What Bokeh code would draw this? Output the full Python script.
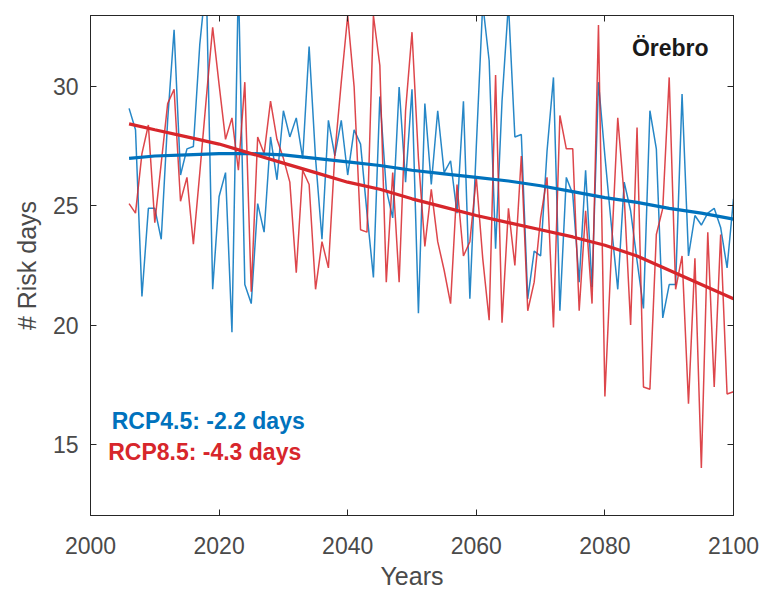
from bokeh.plotting import figure
from bokeh.models import LinearAxis, Range1d, FixedTicker, Label
from bokeh.embed import file_html
from bokeh.resources import INLINE

# ---- data ----
years = list(range(2006, 2101))

rcp45 = [29.1, 28.2, 21.2, 24.9, 24.9, 23.6, 28.6, 32.4, 26.3, 27.4,
         27.5, 31.8, 34.5, 21.5, 25.4, 26.4, 19.7, 34.5, 21.7, 20.9,
         25.1, 23.9, 27.9, 26.1, 29.0, 27.9, 28.7, 27.0, 31.7, 27.0,
         23.6, 28.6, 27.1, 28.6, 26.3, 28.2, 27.6, 24.7, 22.0, 29.6,
         25.7, 24.5, 30.0, 26.0, 29.9, 20.5, 29.3, 25.9, 29.0, 26.4,
         26.9, 24.7, 29.4, 21.1, 27.5, 33.5, 31.1, 23.2, 29.4, 33.5,
         27.9, 28.0, 21.1, 23.1, 22.9, 27.3, 30.4, 20.6, 26.2, 25.5,
         21.8, 26.5, 21.6, 30.2, 27.1, 24.2, 21.5, 26.0, 24.8, 22.7,
         20.7, 29.0, 27.4, 20.3, 21.7, 21.7, 29.7, 22.9, 24.6, 24.2,
         24.7, 24.9, 24.1, 22.4, 25.3]

rcp85 = [25.1, 24.7, 27.2, 28.4, 24.3, 26.8, 29.3, 29.9, 25.2, 26.2,
         23.4, 26.4, 29.5, 32.5, 30.1, 27.8, 28.7, 26.5, 30.2, 21.4,
         27.9, 27.2, 29.4, 27.8, 27.0, 26.0, 22.2, 26.5, 25.9, 21.5,
         23.5, 22.4, 27.2, 30.2, 33.0, 30.0, 24.0, 23.9, 33.0, 30.9,
         21.8, 26.4, 21.8, 29.0, 32.3, 27.0, 23.3, 25.7, 23.5, 22.3,
         20.9, 25.9, 22.9, 23.5, 26.2, 22.8, 20.2, 30.5, 20.1, 24.9,
         22.5, 27.1, 20.6, 21.8, 24.5, 26.2, 19.9, 28.8, 27.4, 27.4,
         20.6, 24.8, 20.9, 32.6, 17.0, 23.0, 28.7, 25.4, 20.0, 28.3,
         17.4, 17.3, 23.8, 24.9, 30.4, 21.5, 22.9, 16.7, 22.8, 14.0,
         23.9, 17.4, 23.8, 17.1, 17.2]

trend_years = [2006, 2010, 2015, 2020, 2025, 2030, 2035, 2040, 2045, 2050,
               2055, 2060, 2065, 2070, 2075, 2080, 2085, 2090, 2095, 2100]
trend45 = [27.0, 27.1, 27.15, 27.2, 27.2, 27.15, 27.0, 26.85, 26.7, 26.5,
           26.35, 26.2, 26.05, 25.85, 25.6, 25.35, 25.15, 24.9, 24.7, 24.45]
trend85 = [28.45, 28.2, 27.9, 27.6, 27.2, 26.8, 26.4, 26.0, 25.7, 25.3,
           24.95, 24.6, 24.3, 24.0, 23.7, 23.35, 22.9, 22.3, 21.7, 21.1]

x_ticks = [2000, 2020, 2040, 2060, 2080, 2100]
y_ticks = [15, 20, 25, 30]

station = "Örebro"
label45 = "RCP4.5: -2.2 days"
label85 = "RCP8.5: -4.3 days"

assert len(rcp45) == len(years) and len(rcp85) == len(years)

BLUE = "#0072BD"
RED = "#D7262B"
TXT = "#4a4a4a"
FONT = "Liberation Sans"

p = figure(width=768, height=592, output_backend="svg", toolbar_location=None,
           x_range=Range1d(2000, 2100), y_range=Range1d(12, 33),
           min_border_left=90, min_border_right=35, min_border_top=15,
           min_border_bottom=75)
p.background_fill_color = "white"
p.border_fill_color = "white"
p.outline_line_color = "#262626"
p.outline_line_width = 1
p.xgrid.grid_line_color = None
p.ygrid.grid_line_color = None

p.line(years, rcp45, line_color=BLUE, line_width=1.5, line_alpha=0.85)
p.line(years, rcp85, line_color=RED, line_width=1.5, line_alpha=0.85)
p.line(trend_years, trend45, line_color=BLUE, line_width=3.2)
p.line(trend_years, trend85, line_color=RED, line_width=3.2)


def style_axis(ax, ticks, show_labels=True):
    ax.ticker = FixedTicker(ticks=ticks)
    ax.major_tick_in = 6
    ax.major_tick_out = 0
    ax.minor_tick_line_color = None
    ax.major_tick_line_color = "#262626"
    ax.axis_line_color = "#262626"
    if show_labels:
        ax.major_label_text_font = FONT
        ax.major_label_text_font_size = "23px"
        ax.major_label_text_color = TXT
        ax.axis_label_text_font = FONT
        ax.axis_label_text_font_size = "25px"
        ax.axis_label_text_font_style = "normal"
        ax.axis_label_text_color = TXT
    else:
        ax.major_label_text_font_size = "1px"
        ax.major_label_text_color = None
        ax.major_label_standoff = 0


style_axis(p.xaxis[0], x_ticks)
style_axis(p.yaxis[0], y_ticks)
p.xaxis[0].axis_label = "Years"
p.yaxis[0].axis_label = "# Risk days"
p.xaxis[0].major_label_standoff = 21
p.xaxis[0].axis_label_standoff = 5
p.yaxis[0].major_label_standoff = 12
p.yaxis[0].axis_label_standoff = 9

top_ax = LinearAxis()
style_axis(top_ax, x_ticks, show_labels=False)
p.add_layout(top_ax, "above")
right_ax = LinearAxis()
style_axis(right_ax, y_ticks, show_labels=False)
p.add_layout(right_ax, "right")

p.add_layout(Label(x=2084.2, y=31.64, text=station, text_font=FONT,
                   text_font_size="23px", text_font_style="bold",
                   text_color="#1a1a1a", text_baseline="alphabetic"))
p.add_layout(Label(x=2003.3, y=15.98, text=label45, text_font=FONT,
                   text_font_size="23px", text_font_style="bold",
                   text_color=BLUE, text_baseline="alphabetic"))
p.add_layout(Label(x=2002.75, y=14.68, text=label85, text_font=FONT,
                   text_font_size="23px", text_font_style="bold",
                   text_color=RED, text_baseline="alphabetic"))

open("out.html", "w").write(file_html(p, INLINE))
